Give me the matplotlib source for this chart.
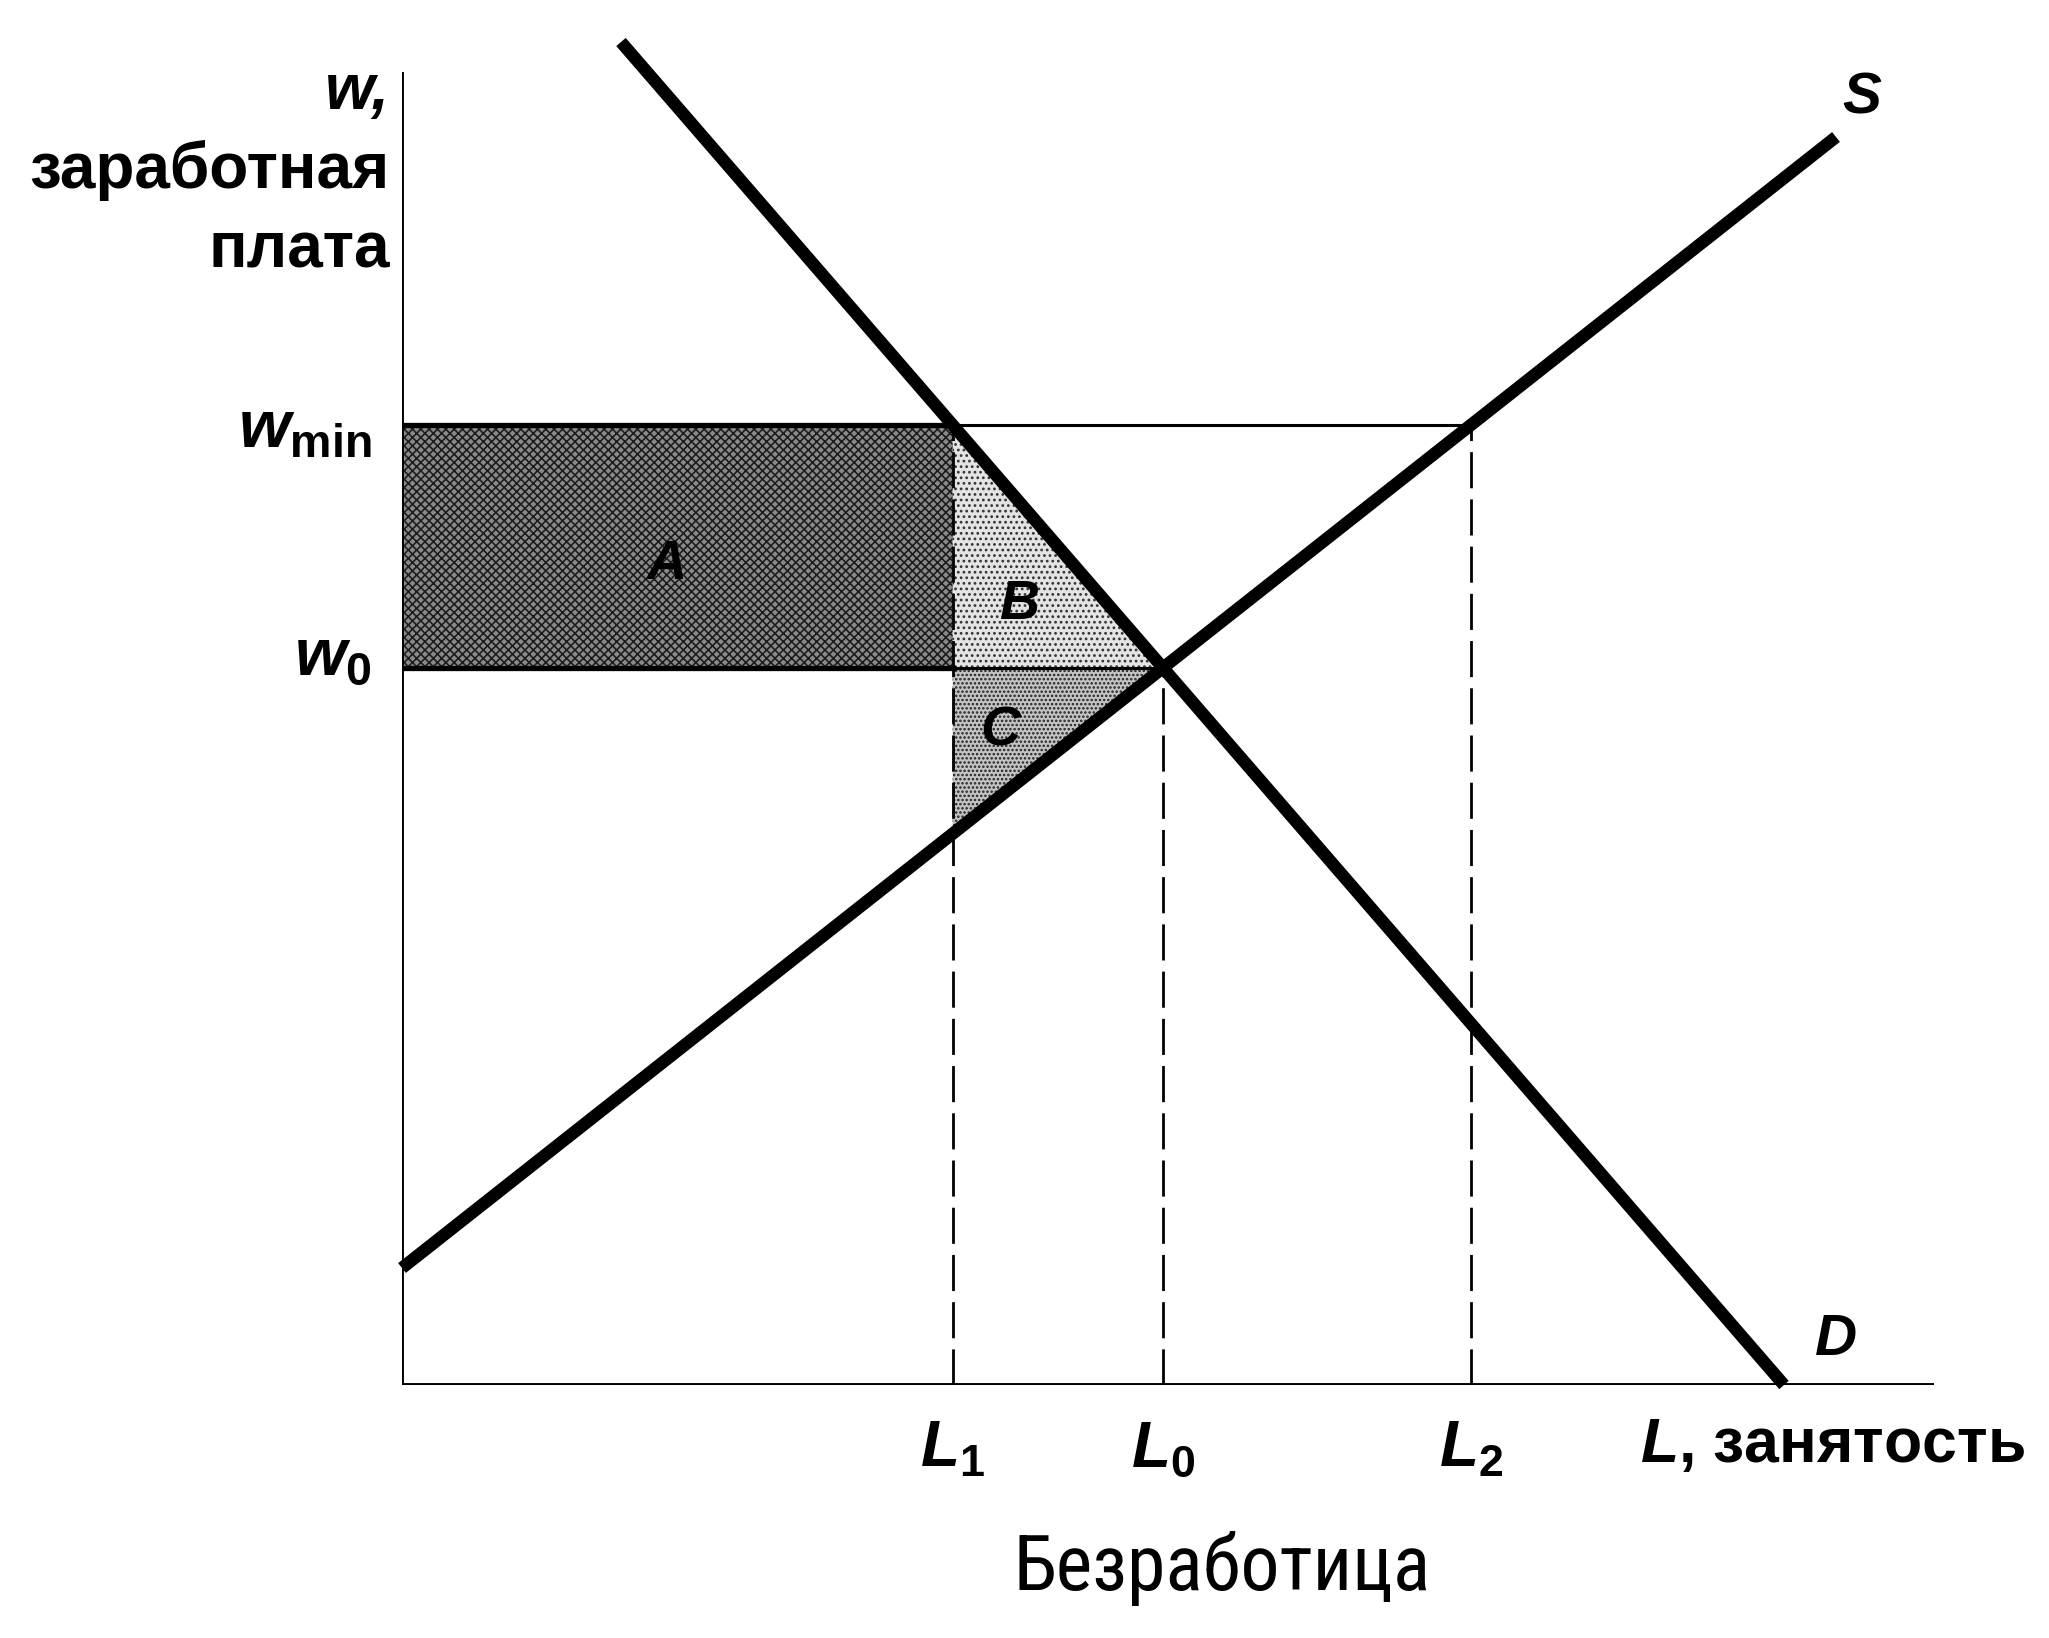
import numpy as np
import matplotlib.pyplot as plt
from matplotlib.patches import Polygon

plt.rcParams['font.family'] = ['Liberation Sans', 'DejaVu Sans']
plt.rcParams['mathtext.fontset'] = 'custom'
plt.rcParams['mathtext.rm'] = 'Liberation Sans:bold'
plt.rcParams['mathtext.it'] = 'Liberation Sans:italic:bold'
plt.rcParams['hatch.linewidth'] = 1.2

# demand and supply lines (labour market), end points
demand_L = [2.19, 13.82]
demand_w = [13.43, 0.0]
supply_L = [0.0, 14.34]
supply_w = [1.17, 12.48]
w_min = 9.60

x_end = 15.32
y_end = 13.13

d_slope = (demand_w[1] - demand_w[0]) / (demand_L[1] - demand_L[0])
d_icpt = demand_w[0] - d_slope * demand_L[0]
s_slope = (supply_w[1] - supply_w[0]) / (supply_L[1] - supply_L[0])
s_icpt = supply_w[0] - s_slope * supply_L[0]

L0 = (d_icpt - s_icpt) / (s_slope - d_slope)
w0 = s_icpt + s_slope * L0
L1 = (w_min - d_icpt) / d_slope
L2 = (w_min - s_icpt) / s_slope


fig = plt.figure(figsize=(20.49, 16.38), dpi=100)
ax = fig.add_axes([402/2049, 253/1638, 1647/2049, 1385/1638])
ax.set_xlim(0, 16.47)
ax.set_ylim(0, 13.85)
ax.set_axis_off()

# axes
ax.plot([0, 0], [0, y_end], color='black', lw=2.8, solid_capstyle='butt')
ax.plot([0, x_end], [0, 0], color='black', lw=2.8, solid_capstyle='butt')

# shaded areas
A = Polygon([(0, w0), (L1, w0), (L1, w_min), (0, w_min)], closed=True,
            facecolor='#8a8a8a', edgecolor='#1e1e1e', hatch='xxxx', lw=0)
B = Polygon([(L1, w_min), (L0, w0), (L1, w0)], closed=True,
            facecolor='#e4e4e4', edgecolor='#333333', hatch='...', lw=0)
C = Polygon([(L1, w0), (L0, w0), (L1, s_icpt + s_slope * L1)], closed=True,
            facecolor='#c4c4c4', edgecolor='#222222', hatch='....', lw=0)
for p in (A, B, C):
    ax.add_patch(p)

# wage levels
ax.plot([0, L2], [w_min, w_min], color='black', lw=2.2)
ax.plot([0, L0], [w0, w0], color='black', lw=2.2)
ax.plot([0, L1], [w_min, w_min], color='black', lw=3.8)
ax.plot([0, L1], [w0, w0], color='black', lw=3.8)

# dashed drops to the employment axis
for xv, top in [(L1, w_min), (L0, w0), (L2, w_min)]:
    ax.plot([xv, xv], [0, top], color='black', lw=2.0, dashes=(13, 4))

# curves
ax.plot(demand_L, demand_w, color='black', lw=9, solid_capstyle='butt', clip_on=False)
ax.plot(supply_L, supply_w, color='black', lw=9, solid_capstyle='butt', clip_on=False)

ax.text(14.6, 12.87, 'S', fontsize=42, fontstyle='italic', fontweight='bold', ha='center', va='center')
ax.text(14.34, 0.45, 'D', fontsize=42, fontstyle='italic', fontweight='bold', ha='center', va='center')
ax.text(2.64, 8.2, 'A', fontsize=40, fontstyle='italic', fontweight='bold', ha='center', va='center')
ax.text(6.17, 7.8, 'B', fontsize=40, fontstyle='italic', fontweight='bold', ha='center', va='center')
ax.text(5.98, 6.53, 'C', fontsize=40, fontstyle='italic', fontweight='bold', ha='center', va='center')

# y axis labels
ax.text(-0.12, 12.93, 'w,', fontsize=46, fontstyle='italic', fontweight='bold', ha='right', va='center')
ax.text(-0.12, 12.15, 'заработная', fontsize=46, fontweight='bold', ha='right', va='center')
ax.text(-0.12, 11.34, 'плата', fontsize=46, fontweight='bold', ha='right', va='center')
ax.text(-0.3, w_min - 0.05, r'$w_{\mathrm{min}}$', fontsize=48, ha='right', va='center')
ax.text(-0.3, w0 + 0.1, r'$w_0$', fontsize=48, ha='right', va='center')

# x axis labels
for xv, lab in [(L1, r'$L_1$'), (L0, r'$L_0$'), (L2, r'$L_2$')]:
    ax.text(xv, -0.65, lab, fontsize=46, ha='center', va='center')
ax.text(12.38, -0.6, r'$L$' + ', занятость', fontsize=45, fontweight='bold', ha='left', va='center')

fig.text(1222/2049, 1 - 1568/1638, 'Безработица', fontsize=56, fontstretch='condensed',
         family=['Roboto Condensed', 'Liberation Sans Narrow', 'DejaVu Sans Condensed', 'DejaVu Sans'],
         ha='center', va='center')

fig.savefig('out.png', dpi=100)
